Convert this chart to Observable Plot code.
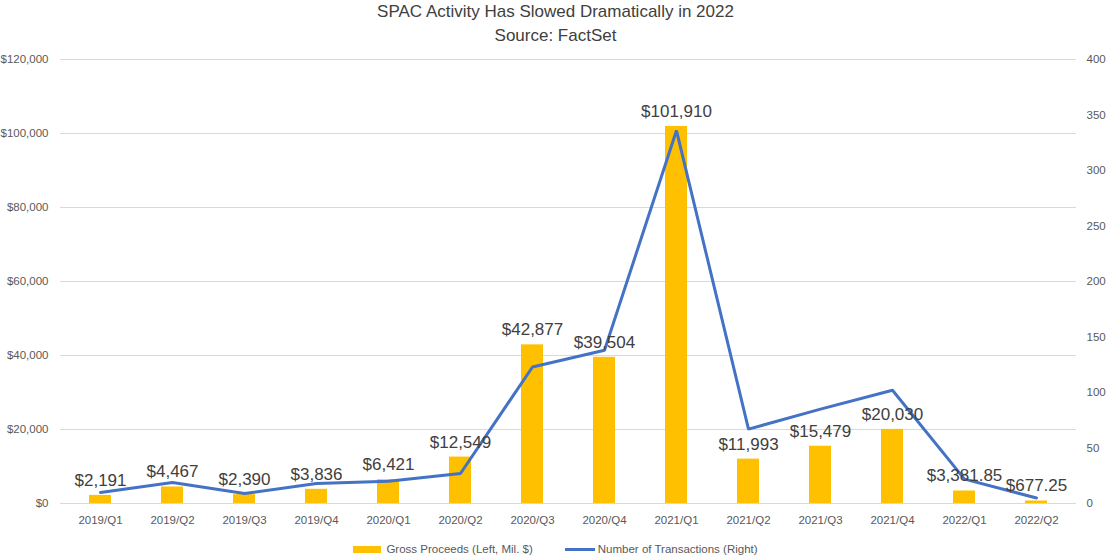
<!DOCTYPE html>
<html>
<head>
<meta charset="utf-8">
<script src="https://cdn.jsdelivr.net/npm/d3@7"></script>
<script src="https://cdn.jsdelivr.net/npm/@observablehq/plot@0.6"></script>
<style>
  html, body { margin: 0; padding: 0; background: #fff; }
  body { width: 1111px; height: 557px; overflow: hidden; font-family: "Liberation Sans", Arial, sans-serif; }
  .title { text-align: center; color: #404040; font-size: 17px; line-height: 24px; }
  .legend { height: 22px; display: flex; justify-content: center; align-items: center; font-size: 11.5px; color: #595959; padding-top: 3px; }
  .legend .item { display: flex; align-items: center; margin: 0 6px; }
  .sw-bar { width: 28px; height: 7px; background: #FFC000; margin-right: 5px; }
  .sw-line { width: 30px; height: 3px; background: #4472C4; margin-right: 3px; }
</style>
</head>
<body>
<div class="title">SPAC Activity Has Slowed Dramatically in 2022</div>
<div class="title">Source: FactSet</div>
<div id="chart"></div>
<div class="legend">
  <div class="item"><div class="sw-bar"></div><span>Gross Proceeds (Left, Mil. $)</span></div>
  <div class="item" style="margin-left:26px"><div class="sw-line"></div><span>Number of Transactions (Right)</span></div>
</div>
<script>
const quarters = ["2019/Q1","2019/Q2","2019/Q3","2019/Q4","2020/Q1","2020/Q2","2020/Q3","2020/Q4","2021/Q1","2021/Q2","2021/Q3","2021/Q4","2022/Q1","2022/Q2"];
const proceeds = [2191, 4467, 2390, 3836, 6421, 12549, 42877, 39504, 101910, 11993, 15479, 20030, 3381.85, 677.25];
const transactions = [10, 19, 9, 18, 20, 27, 123, 138, 336, 67, 85, 102, 22, 5];
const leftTicks = [0, 20000, 40000, 60000, 80000, 100000, 120000];
const rightTicks = [0, 50, 100, 150, 200, 250, 300, 350, 400];
const ratio = 120000 / 400;

const data = quarters.map((q, i) => ({q, p: proceeds[i], n: transactions[i]}));
const fmtLabel = d3.format("$,");
const fmtLeft = d3.format("$,.0f");

const chart = Plot.plot({
  width: 1111,
  height: 487,
  marginLeft: 60,
  marginRight: 35,
  marginTop: 11,
  marginBottom: 32,
  style: {fontFamily: "Liberation Sans, Arial, sans-serif", fontSize: "11.5px", color: "#595959", background: "#fff"},
  x: {domain: quarters, paddingInner: 0.69, paddingOuter: 0.345, label: null},
  y: {domain: [0, 120000], label: null},
  marks: [
    Plot.ruleY(leftTicks, {stroke: "#d9d9d9", strokeWidth: 1}),
    Plot.barY(data, {x: "q", y: "p", fill: "#FFC000"}),
    Plot.line(data, {x: "q", y: d => d.n * ratio, stroke: "#4472C4", strokeWidth: 3, strokeLinejoin: "miter"}),
    Plot.text(data, {x: "q", y: "p", text: d => fmtLabel(d.p), dy: -15, fill: "#404040", fontSize: 17}),
    Plot.axisX({tickSize: 0, tickPadding: 12, fontSize: 11.5, label: null}),
    Plot.axisY({ticks: leftTicks, tickFormat: fmtLeft, tickSize: 0, tickPadding: 12, anchor: "left", label: null, fontSize: 11.5}),
    Plot.axisY({ticks: rightTicks.map(v => v * ratio), tickFormat: d => String(d / ratio), tickSize: 0, tickPadding: 10, anchor: "right", textAnchor: "start", label: null, fontSize: 11.5})
  ]
});
document.getElementById("chart").appendChild(chart);
</script>
</body>
</html>
